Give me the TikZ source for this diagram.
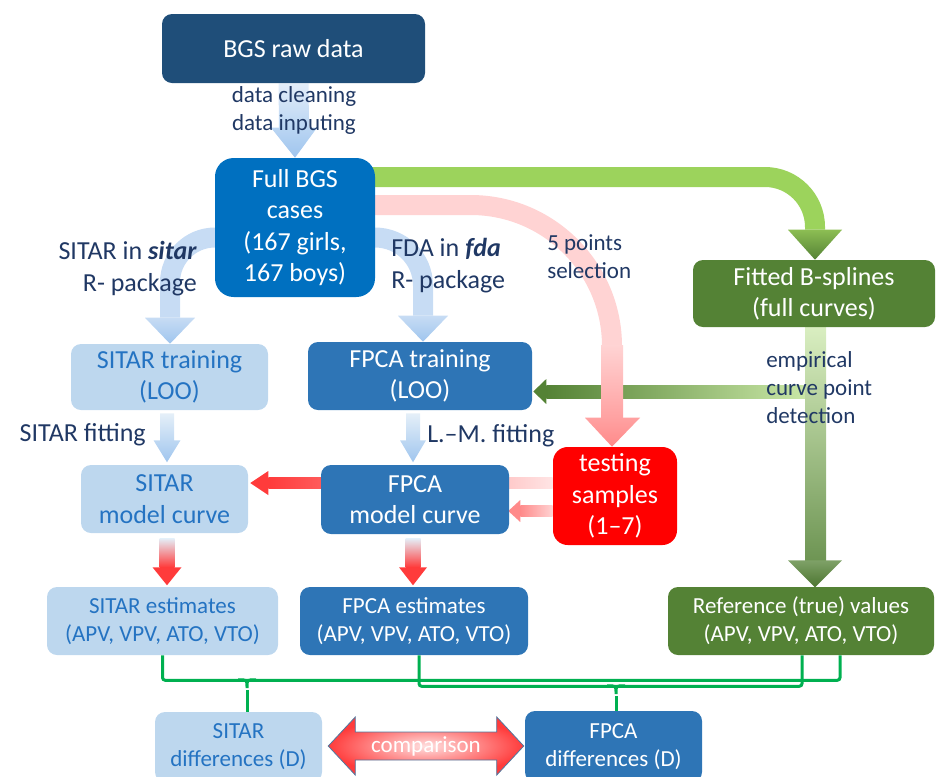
\documentclass[tikz,border=0pt]{standalone}
\usepackage{fontspec}
\setmainfont{Carlito}
\usetikzlibrary{positioning,calc}

\definecolor{rawblue}{HTML}{1F4E79}
\definecolor{fullblue}{HTML}{0070C0}
\definecolor{fpcablue}{HTML}{2E75B6}
\definecolor{sitarblue}{HTML}{BDD7EE}
\definecolor{sitartext}{HTML}{2473C2}
\definecolor{navytext}{HTML}{203864}
\definecolor{splinegreen}{HTML}{548235}
\definecolor{linkgreen}{HTML}{00B050}
\definecolor{bandblue}{HTML}{C7DCF4}
\definecolor{headblue}{HTML}{9FC5EE}
\definecolor{bandgreen}{HTML}{9CD35C}
\definecolor{palegreen}{HTML}{C9E7A6}
\definecolor{bandpink}{HTML}{FFD3D3}
\definecolor{headpink}{HTML}{FF8A8A}
\definecolor{arrowred}{HTML}{FF3B3B}

\newcommand\boxfont{\fontsize{19.5pt}{23.5pt}\selectfont}
\newcommand\lblfont{\fontsize{17.25pt}{21pt}\selectfont}

\pgfdeclarelayer{back}
\pgfsetlayers{back,main}

\begin{document}
\begin{tikzpicture}[x=0.75pt,y=-0.75pt,
  box/.style={rounded corners=7.5pt,align=center,inner sep=0pt,text=white,font=\boxfont},
  sitarbox/.style={box,fill=sitarblue,text=sitartext},
  fpcabox/.style={box,fill=fpcablue},
  greenbox/.style={box,fill=splinegreen},
  lbl/.style={text=navytext,font=\boxfont,inner sep=0pt},
  band/.style={line width=15pt},
  bracket/.style={linkgreen,line width=2.25pt,rounded corners=2pt}]
\useasboundingbox (0,0) rectangle (944,776);
\clip (0,0) rectangle (944,776);

% boxes
\node[box,fill=rawblue,minimum width=197.25pt,minimum height=51.75pt] (raw) at (293.5,48.5) {BGS raw data};
\node[box,fill=fullblue,rounded corners=14pt,minimum width=120pt,minimum height=104.25pt] (full) at (295,227.5) {Full BGS\\cases\\(167 girls,\\167 boys)};
\node[sitarbox,minimum width=147.75pt,minimum height=49.5pt] (sitartrain) at (169.5,377) {SITAR training\\(LOO)};
\node[fpcabox,minimum width=168pt,minimum height=51pt] (fpcatrain) at (420,376) {FPCA training\\(LOO)};
\node[sitarbox,minimum width=125.25pt,minimum height=51pt] (sitarcurve) at (164.5,499) {SITAR\\model curve};
\node[fpcabox,minimum width=141pt,minimum height=51.75pt] (fpcacurve) at (415,499.5) {FPCA\\model curve};
\node[box,fill=red,rounded corners=11pt,minimum width=93pt,minimum height=73.5pt] (testing) at (615,496) {testing\\samples\\(1–7)};
\node[greenbox,minimum width=181.5pt,minimum height=50.25pt] (fitted) at (814,293.5) {Fitted B-splines\\(full curves)};
\node[sitarbox,font=\lblfont,minimum width=173.25pt,minimum height=51pt] (sitarest) at (162.5,621) {SITAR estimates\\(APV, VPV, ATO, VTO)};
\node[fpcabox,font=\lblfont,minimum width=171pt,minimum height=51pt] (fpcaest) at (414,621) {FPCA estimates\\(APV, VPV, ATO, VTO)};
\node[greenbox,font=\lblfont,minimum width=199.5pt,minimum height=51pt] (ref) at (801,621) {Reference (true) values\\(APV, VPV, ATO, VTO)};
\node[sitarbox,font=\lblfont,minimum width=125.25pt,minimum height=52.5pt] (sitardiff) at (238.5,747) {SITAR\\differences (D)};
\node[fpcabox,font=\lblfont,minimum width=132.75pt,minimum height=53.25pt] (fpcadiff) at (613.5,746.5) {FPCA\\differences (D)};

% labels
\node[lbl,font=\lblfont,align=center] (prep) at (294,110) {data cleaning\\data inputing};
\node[lbl,align=right,anchor=east] (sitarlbl) at (197,268.5) {SITAR in \textbf{\textit{sitar}}\\R- package};
\node[lbl,align=left,anchor=west] (fdalbl) at (391,265.5) {FDA in \textbf{\textit{fda}}\\R- package};
\node[lbl,font=\lblfont,align=left,anchor=west] (selectlbl) at (547,256.5) {5 points\\selection};
\node[lbl,anchor=east] (sitarfitlbl) at (146,435) {SITAR fitting};
\node[lbl,anchor=west] (lmfitlbl) at (427,436) {L.–M. fitting};
\node[lbl,font=\lblfont,align=left,anchor=west] (detectlbl) at (766,387.5) {empirical\\curve point\\detection};

\begin{pgfonlayer}{back}
% data preparation
\shade[top color=bandblue!50,bottom color=headblue]
  ($(raw.south)+(-15,0)$) -- ($(raw.south)+(15,0)$) -- ($(full.north)+(14,-30)$)
  -- ($(full.north)+(22,-30)$) -- (full.north) -- ($(full.north)+(-24,-30)$)
  -- ($(full.north)+(-16,-30)$) -- cycle;
% the two packages
\draw[band,bandblue,rounded corners=33.75pt] ($(full.west)+(20,10)$) -| ($(sitartrain.north)+(0.5,-26)$);
\shade[top color=bandblue,bottom color=headblue] ($(sitartrain.north)+(-24.5,-26)$) -- ($(sitartrain.north)+(25.5,-26)$) -- ($(sitartrain.north)+(0.5,0)$) -- cycle;
\draw[band,bandblue,rounded corners=36pt] ($(full.east)+(-20,10)$) -| ($(fpcatrain.north)+(3,-26)$);
\shade[top color=bandblue,bottom color=headblue] ($(fpcatrain.north)+(-22,-26)$) -- ($(fpcatrain.north)+(28,-26)$) -- ($(fpcatrain.north)+(3,0)$) -- cycle;
% splines
\draw[band,bandgreen,rounded corners=37.5pt] ($(full.east)+(-20,-50.5)$) -| ($(fitted.north)+(1,-30)$);
\shade[top color=bandgreen!90!black,bottom color=splinegreen] ($(fitted.north)+(-26,-30)$) -- ($(fitted.north)+(28,-30)$) -- ($(fitted.north)+(1,0)$) -- cycle;
\shade[left color=splinegreen,right color=palegreen] ($(fpcatrain.east)+(14,9)$) rectangle ($(fitted.south)+(-9,71)$);
\fill[splinegreen] ($(fpcatrain.east)+(14,3)$) -- ($(fpcatrain.east)+(14,28)$) -- ($(fpcatrain.east)+(1,15.5)$) -- cycle;
\shade[top color=palegreen!70,bottom color=splinegreen!85] ($(fitted.south)+(-9,0)$) rectangle ($(fitted.south)+(12,233)$);
\shade[top color=splinegreen!75,bottom color=splinegreen!90!black] ($(fitted.south)+(-26,233)$) -- ($(fitted.south)+(28,233)$) -- ($(fitted.south)+(1,260)$) -- cycle;
% testing samples
\draw[band,bandpink,rounded corners=106pt] ($(full.east)+(-20,-22.5)$) -| ($(testing.north)+(-3,-100)$);
\shade[top color=bandpink,bottom color=headpink!80] ($(testing.north)+(-14,-101)$) rectangle ($(testing.north)+(8,-29)$);
\shade[top color=headpink!80,bottom color=headpink] ($(testing.north)+(-30,-29)$) -- ($(testing.north)+(25,-29)$) -- ($(testing.north)+(-3,0)$) -- cycle;
% fitting
\shade[top color=sitarblue!40,bottom color=headblue] ($(sitartrain.south)+(-9.5,3)$) -- ($(sitartrain.south)+(4.5,3)$) -- ($(sitartrain.south)+(4.5,30)$) -- ($(sitartrain.south)+(11,30)$)
  -- ($(sitartrain.south)+(-2.5,52)$) -- ($(sitartrain.south)+(-16,30)$) -- ($(sitartrain.south)+(-9.5,30)$) -- cycle;
\shade[top color=sitarblue!40,bottom color=headblue] ($(fpcatrain.south)+(-14,3)$) -- ($(fpcatrain.south)+(0,3)$) -- ($(fpcatrain.south)+(0,30)$) -- ($(fpcatrain.south)+(6,30)$)
  -- ($(fpcatrain.south)+(-7,52)$) -- ($(fpcatrain.south)+(-20,30)$) -- ($(fpcatrain.south)+(-14,30)$) -- cycle;
\shade[left color=arrowred,right color=bandpink!60] ($(sitarcurve.east)+(20,-22)$) rectangle ($(testing.west)+(0,-8)$);
\fill[arrowred] ($(sitarcurve.east)+(20,-28)$) -- ($(sitarcurve.east)+(20,-4)$) -- ($(sitarcurve.east)+(2,-16)$) -- cycle;
\shade[left color=headpink,right color=bandpink] ($(fpcacurve.east)+(11,5.5)$) rectangle ($(testing.west)+(0,20)$);
\fill[headpink] ($(fpcacurve.east)+(11,0.5)$) -- ($(fpcacurve.east)+(11,22.5)$) -- ($(fpcacurve.east)+(-1,11.5)$) -- cycle;
% estimates
\shade[top color=sitarblue!40,bottom color=arrowred] ($(sitarcurve.south)+(-5,5)$) rectangle ($(sitarcurve.south)+(10,34)$);
\fill[arrowred] ($(sitarcurve.south)+(-12,34)$) -- ($(sitarcurve.south)+(17,34)$) -- ($(sitarcurve.south)+(2.5,52)$) -- cycle;
\shade[top color=sitarblue!40,bottom color=arrowred] ($(fpcacurve.south)+(-9.5,4)$) rectangle ($(fpcacurve.south)+(5.5,33)$);
\fill[arrowred] ($(fpcacurve.south)+(-16,33)$) -- ($(fpcacurve.south)+(12,33)$) -- ($(fpcacurve.south)+(-2,51)$) -- cycle;
\end{pgfonlayer}

% differences
\draw[bracket] (sitarest.south) |- ($(ref.south)+(39,25)$) -- ($(ref.south)+(39,0)$);
\draw[bracket] ($(fpcaest.south)+(5,0)$) |- ($(ref.south)+(1,31)$) -- ($(ref.south)+(1,0)$);
\draw[bracket] ($(sitardiff.north)+(-0.5,-32)$) .. controls ($(sitardiff.north)+(8.5,-32)$) .. ($(sitardiff.north)+(8.5,-22)$)
  .. controls ($(sitardiff.north)+(8.5,-32)$) .. ($(sitardiff.north)+(17.5,-32)$);
\draw[bracket] ($(sitardiff.north)+(8.5,-22)$) -- ($(sitardiff.north)+(8.5,0)$);
\draw[bracket] ($(fpcadiff.north)+(-6.5,-25)$) .. controls ($(fpcadiff.north)+(2.5,-25)$) .. ($(fpcadiff.north)+(2.5,-15)$)
  .. controls ($(fpcadiff.north)+(2.5,-25)$) .. ($(fpcadiff.north)+(11.5,-25)$);
\draw[bracket] ($(fpcadiff.north)+(2.5,-15)$) -- ($(fpcadiff.north)+(2.5,0)$);

% comparison
\coordinate (cmpL) at ($(sitardiff.east)+(6,-1)$);
\coordinate (cmpR) at ($(fpcadiff.west)+(-1,-0.5)$);
\shadedraw[inner color=red!12,outer color=arrowred,draw=fpcablue!60!gray,line width=0.6pt]
  (cmpL) -- ($(cmpL)+(27,-29)$) -- ($(cmpL)+(27,-14)$) -- ($(cmpR)+(-27,-14)$) -- ($(cmpR)+(-27,-29)$) -- (cmpR)
  -- ($(cmpR)+(-27,29)$) -- ($(cmpR)+(-27,14)$) -- ($(cmpL)+(27,14)$) -- ($(cmpL)+(27,29)$) -- cycle;
\node[font=\lblfont,text=white,inner sep=0pt] (cmp) at ($(cmpL)!0.5!(cmpR)$) {comparison};
\end{tikzpicture}
\end{document}
